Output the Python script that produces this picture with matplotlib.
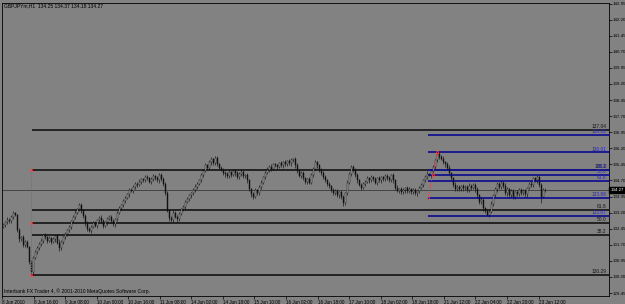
import matplotlib
matplotlib.use("Agg")
import matplotlib.pyplot as plt

# ---------------- data ----------------
symbol_text = "GBPJPYm,H1  134.25 134.37 134.18 134.27"
footer_text = "Interbank FX Trader 4, \u00a9 2001-2010 MetaQuotes Software Corp."

first_open = 132.55
closes = [
    132.62, 132.75, 132.88, 132.80, 133.02, 133.18, 133.10,
    132.40, 131.95,
    132.05, 131.70, 131.85, 131.60,
    130.90, 130.45,
    131.10, 131.35, 131.55, 131.75, 131.90,
    132.15, 132.05, 131.90, 132.00, 131.85, 131.95, 132.10, 131.80, 131.55, 131.85,
    132.05, 132.20, 132.40, 132.55, 132.80, 133.00, 133.20, 133.35, 133.55, 133.30,
    133.05, 132.70, 132.45, 132.35,
    132.55, 132.70, 132.60, 132.85, 132.95, 132.80, 132.60, 132.75, 132.90, 133.00,
    132.80, 132.65, 132.90, 133.20,
    133.40, 133.55, 133.75, 133.90, 134.05, 134.25, 134.20, 134.40, 134.55, 134.50, 134.65, 134.75,
    134.70, 134.85, 134.80, 134.65, 134.75, 134.90, 134.80, 134.70, 134.95, 134.75, 134.55,
    134.10, 133.30, 132.95, 132.85,
    133.20, 133.00, 132.90, 133.15, 133.35, 133.45,
    133.70, 133.85, 134.00, 134.10, 134.25, 134.40, 134.55, 134.70, 134.95, 135.15,
    135.40, 135.30, 135.55, 135.70, 135.50, 135.75, 135.45, 135.30, 135.20,
    135.05, 135.00, 134.90, 135.10, 134.95, 135.15, 135.05, 134.85, 135.00, 135.10, 134.90, 134.95, 134.70,
    134.30, 134.05, 133.95, 134.25, 134.10,
    134.40, 134.60, 134.85, 135.05, 135.20, 135.35, 135.25, 135.45, 135.40,
    135.35, 135.50, 135.40, 135.55, 135.45, 135.60, 135.50, 135.65, 135.70, 135.40,
    135.15, 134.90, 135.05, 134.80, 134.65, 134.75, 134.60,
    134.95, 135.25, 135.55, 135.40,
    135.20, 135.05, 134.85, 134.70, 134.55, 134.45,
    134.25, 134.10, 134.20, 134.00, 134.15, 133.95, 133.65,
    134.10, 134.60, 135.00, 135.35, 135.20,
    134.95, 134.70, 134.50, 134.35, 134.55,
    134.65, 134.80, 134.70, 134.85, 134.75, 134.60, 134.80, 134.70, 134.85, 134.75, 134.90, 134.80, 134.70, 134.95, 134.70,
    134.35, 134.20, 134.30, 134.15, 134.25, 134.35, 134.20, 134.30, 134.15, 134.25, 134.10, 134.20, 134.35,
    134.50, 134.70, 134.85, 135.00, 134.95, 135.15, 135.35, 135.65, 135.95, 135.80, 135.70, 135.55,
    135.45, 135.30, 135.05, 134.80, 134.50, 134.30,
    134.40, 134.30, 134.45, 134.35, 134.40, 134.25, 134.45, 134.35, 134.50, 134.30,
    134.00, 133.70, 133.80, 133.40, 133.30, 133.10, 133.25,
    133.60, 134.00, 134.30, 134.55, 134.40, 134.60, 134.45,
    134.10, 134.30, 134.00, 134.20, 133.95, 134.15, 134.05, 134.25, 134.10, 134.20, 134.05,
    134.35, 134.55, 134.50, 134.80, 134.70, 134.85, 134.50, 133.95, 134.25, 134.27,
]

# upper / lower wick lengths in hundredths of a yen
wick_up = [
    8, 6, 10, 5, 9, 12, 7, 6, 10, 8,
    12, 7, 9, 6, 10, 8, 12, 9, 7, 10,
    6, 9, 8, 12, 7, 10, 6, 9, 15, 8,
    7, 10, 6, 9, 8, 7, 11, 6, 10, 8,
    9, 7, 12, 8, 6, 10, 9, 7, 8, 12,
    10, 6, 9, 8, 7, 12, 6, 8, 10, 7,
    9, 6, 8, 10, 12, 7, 9, 6, 10, 8,
    7, 12, 9, 6, 10, 8, 7, 12, 8, 9,
    10, 8, 12, 6, 9, 14, 7, 10, 8, 6,
    9, 7, 10, 8, 6, 9, 12, 7, 8, 10,
    8, 12, 6, 10, 9, 7, 8, 11, 6, 9,
    7, 10, 8, 12, 6, 9, 10, 7, 8, 12,
    9, 6, 10, 8, 7, 12, 9, 6, 8, 10,
    7, 9, 12, 6, 10, 8, 7, 9, 6, 10,
    8, 12, 7, 9, 10, 6, 8, 12, 9, 7,
    10, 8, 6, 9, 12, 7, 10, 8, 6, 9,
    8, 12, 7, 10, 6, 9, 8, 12, 7, 10,
    9, 7, 12, 10, 8, 6, 9, 12, 7, 8,
    10, 6, 9, 8, 12, 7, 10, 6, 9, 8,
    7, 12, 8, 10, 6, 9, 8, 12, 7, 10,
    9, 6, 10, 8, 7, 12, 9, 6, 8, 10,
    7, 9, 12, 6, 10, 8, 7, 6, 10, 8,
    12, 7, 9, 10, 6, 8, 12, 7, 9, 6,
    10, 8, 7, 12, 9, 6, 10, 8, 7, 12,
    9, 6, 8, 10, 12, 7, 9, 6, 10, 8,
    7, 12, 9, 6, 10, 8, 7, 12, 8, 9,
    10, 8, 6, 9, 12, 7, 8, 10, 6, 9,
    8, 10,
]
wick_dn = [
    7, 10, 6, 9, 8, 12, 7, 10, 12, 8,
    9, 12, 7, 10, 16, 15, 8, 10, 7, 9,
    10, 7, 12, 8, 9, 6, 10, 8, 14, 7,
    9, 6, 10, 8, 12, 7, 9, 8, 6, 10,
    8, 12, 9, 7, 10, 6, 8, 12, 9, 7,
    10, 8, 12, 6, 9, 7, 10, 8, 6, 9,
    7, 10, 8, 12, 6, 9, 8, 10, 7, 12,
    9, 6, 10, 8, 12, 7, 9, 6, 10, 8,
    12, 10, 9, 14, 8, 10, 7, 12, 9, 6,
    8, 10, 7, 9, 12, 6, 8, 10, 7, 9,
    10, 7, 9, 6, 12, 8, 10, 7, 9, 6,
    8, 12, 7, 10, 9, 6, 12, 8, 10, 7,
    9, 8, 12, 10, 14, 12, 7, 9, 6, 10,
    8, 10, 7, 9, 12, 6, 8, 10, 7, 9,
    10, 6, 9, 8, 12, 7, 10, 8, 6, 9,
    7, 10, 12, 8, 6, 9, 7, 10, 12, 8,
    9, 7, 10, 12, 8, 6, 9, 7, 10, 12,
    15, 8, 10, 7, 9, 12, 8, 10, 6, 9,
    7, 10, 8, 12, 6, 9, 7, 10, 8, 12,
    9, 6, 10, 8, 7, 12, 9, 6, 10, 8,
    8, 12, 7, 9, 10, 6, 8, 12, 9, 7,
    10, 7, 9, 6, 12, 8, 10, 7, 9, 6,
    8, 10, 12, 7, 9, 12, 8, 10, 7, 9,
    12, 8, 10, 7, 9, 6, 12, 10, 8, 9,
    12, 10, 6, 9, 8, 10, 7, 12, 9, 8,
    10, 7, 12, 8, 9, 12, 10, 8, 7, 9,
    8, 12, 10, 7, 9, 12, 8, 10, 12, 30,
    8, 9,
]

time_labels = ["8 Jun 2010", "8 Jun 16:00", "9 Jun 08:00", "10 Jun 00:00", "10 Jun 16:00",
               "11 Jun 08:00", "14 Jun 02:00", "14 Jun 18:00", "15 Jun 10:00", "16 Jun 02:00",
               "16 Jun 18:00", "17 Jun 10:00", "18 Jun 02:00", "18 Jun 18:00", "21 Jun 12:00",
               "22 Jun 04:00", "22 Jun 20:00", "23 Jun 12:00"]
price_ticks = [142.95, 142.20, 141.45, 140.70, 139.95, 139.20, 138.45, 137.70, 136.95,
               136.20, 135.45, 134.70, 133.95, 133.20, 132.45, 131.70, 130.95, 130.20, 129.45]

bid_price = 134.27

# Fibonacci set 1 (black) and set 2 (blue)
fib1_prices = [130.29, 132.156, 132.733, 133.309, 135.175, 137.04]
fib1_labels = ["130.29", "38.2", "50.0", "61.8", "100.0", "137.04"]
fib1_anchor = (14, 130.29, 14, 135.175)
fib1_start = 14.5

fib2_prices = [136.82, 136.01, 135.196, 134.945, 134.694, 133.88, 133.066]
fib2_labels = ["136.82", "136.01", "38.2", "50.0", "61.8", "133.88", "133.07"]
fib2_anchor = (212.5, 133.88, 217, 136.01)
fib2_start = 212.5

# ---------------- drawing ----------------
W, H = 625, 304
BG = "#828282"
FONT = "Liberation Sans"

fig = plt.figure(figsize=(W / 100, H / 100), dpi=100, facecolor=BG)
L, R, T, B = 2, 609, 3, 296
ax = fig.add_axes([L / W, 1 - B / H, (R - L) / W, (B - T) / H], facecolor=BG)

n = len(closes)
opens = [first_open] + closes[:-1]
xs = list(range(n))
highs = [max(o, c) + u / 100 for o, c, u in zip(opens, closes, wick_up)]
lows = [min(o, c) - d / 100 for o, c, d in zip(opens, closes, wick_dn)]

XMAX = 303
ax.set_xlim(-0.5, XMAX)
ax.set_ylim(129.314, 142.974)

# fib lines
for p in fib1_prices:
    ax.hlines(p, fib1_start, XMAX, color="#1c1c1c", lw=1.3, zorder=1)
for p in fib2_prices:
    ax.hlines(p, fib2_start, XMAX, color="#13138f", lw=1.3, zorder=1)
for p, lab in zip(fib1_prices, fib1_labels):
    ax.text(301.8, p + 0.04, lab, ha="right", va="bottom", fontsize=3.5,
            color="#151515", family=FONT, zorder=5)
for p, lab in zip(fib2_prices, fib2_labels):
    ax.text(301.8, p + 0.04, lab, ha="right", va="bottom", fontsize=3.5,
            color="#2626c8", family=FONT, zorder=6)

# anchor (trend) lines of the fibs, red dotted
for (x0, y0, x1, y1) in [fib1_anchor, fib2_anchor]:
    ax.plot([x0, x1], [y0, y1], color="#ff3030", lw=0.6, ls=(0, (1.5, 1.5)), zorder=4)
    ax.plot([x0, (x0 + x1) / 2, x1], [y0, (y0 + y1) / 2, y1], ls="none", marker="s",
            ms=1.3, mfc="none", mec="#ff4040", mew=0.5, zorder=4)

# bid line
ax.axhline(bid_price, color="#3a3a3a", lw=0.6, zorder=1)

# candles
ax.vlines(xs, lows, highs, color="#101010", lw=0.45, zorder=2)
for x, o, c in zip(xs, opens, closes):
    bottom = min(o, c)
    h = max(abs(c - o), 0.012)
    fc = "#c8c8c8" if c > o else "#101010"
    ax.bar(x, h, bottom=bottom, width=0.5, color=fc, edgecolor="#101010", lw=0.3, zorder=3)

# axes styling
for s in ax.spines.values():
    s.set_color("black")
    s.set_linewidth(0.6)
ax.yaxis.tick_right()
ax.set_yticks(price_ticks)
ax.set_yticklabels([f"{p:.2f}" for p in price_ticks], family=FONT)
ax.tick_params(axis="y", right=True, left=False, length=2, width=0.5, pad=0.6,
               labelsize=3.2, colors="black")
tick_pos = [-0.5 + 15.78 * k for k in range(len(time_labels))]
ax.set_xticks(tick_pos)
ax.set_xticklabels(time_labels, family=FONT, ha="left")
ax.tick_params(axis="x", length=2, width=0.5, pad=0.8, labelsize=3.3, colors="black")

# price box
fig.text(610.5 / W, 1 - 190 / H, f"{bid_price:.2f}", ha="left", va="center", fontsize=3.2,
         color="white", family=FONT,
         bbox=dict(boxstyle="square,pad=0.25", fc="black", ec="black"))

fig.text(4 / W, 1 - 6 / H, symbol_text, ha="left", va="center", fontsize=3.6,
         color="black", family=FONT)
fig.text(4 / W, 1 - 291 / H, footer_text, ha="left", va="center", fontsize=3.6,
         color="black", family=FONT)

fig.savefig("out.png", dpi=100, facecolor=BG)
